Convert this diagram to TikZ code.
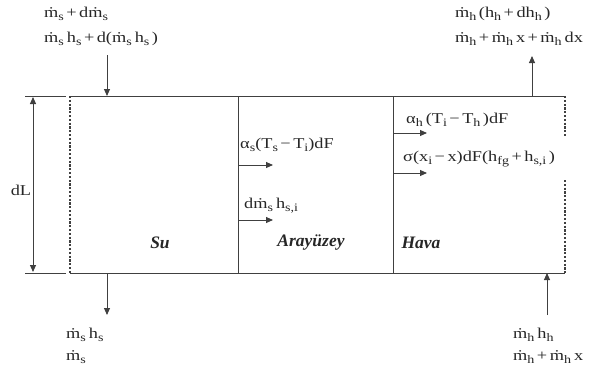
\documentclass[tikz,border=0pt]{standalone}
\usepackage{fontspec}
\setmainfont{Liberation Serif}
\newfontfamily\eqf[FakeStretch=1.22]{Liberation Serif}
\usetikzlibrary{arrows.meta}
\newcommand{\sbx}[1]{\raisebox{-0.4ex}{\fontsize{11.5}{12}\selectfont #1}}
\newcommand{\md}{\.m}
\newcommand{\pl}{\hspace{2.5pt}+\hspace{2.5pt}}
\newcommand{\mn}{\hspace{2.5pt}−\hspace{2.5pt}}
\newcommand{\gp}{\hspace{3pt}}
\begin{document}
\begin{tikzpicture}[x=1pt,y=-1pt,
  line/.style={draw=black!75,line width=0.9pt},
  dline/.style={draw=black!75,line width=1.1pt,dash pattern=on 2.2pt off 1.6pt},
  arr/.style={draw=black!75,line width=0.9pt,-{Triangle[length=7pt,width=6pt]}},
  darr/.style={draw=black!75,line width=0.9pt,{Triangle[length=7pt,width=6pt]}-{Triangle[length=7pt,width=6pt]}},
  lbl/.style={anchor=west,inner sep=0pt,font=\eqf\fontsize{15}{17}\selectfont,text=black!85},
  zone/.style={inner sep=0pt,font=\fontsize{17.5}{19}\selectfont\bfseries\itshape,text=black!85}]
\useasboundingbox (0,0) rectangle (594,370);
% box corners
\coordinate (tl) at (70,96);
\coordinate (tr) at (565,96);
\coordinate (bl) at (70,273);
\coordinate (br) at (565,273);
\coordinate (d1t) at (238,96);
\coordinate (d1b) at (238,273);
\coordinate (d2t) at (393,96);
\coordinate (d2b) at (393,273);
\coordinate (rgap1) at (565,137);
\coordinate (rgap2) at (565,180);
% ticks
\coordinate (tk1a) at (25,96);
\coordinate (tk1b) at (66,96);
\coordinate (tk2a) at (25,273);
\coordinate (tk2b) at (66,273);
\draw[line] (tk1a) -- (tk1b);
\draw[line] (tk2a) -- (tk2b);
\draw[line] (tl) -- (tr);
\draw[line] (bl) -- (br);
\draw[line] (d1t) -- (d1b);
\draw[line] (d2t) -- (d2b);
\draw[dline] (tl) -- (bl);
\draw[dline] (tr) -- (rgap1);
\draw[dline] (rgap2) -- (br);
% dL
\coordinate (dla) at (33,97);
\coordinate (dlb) at (33,272);
\draw[darr] (dla) -- (dlb);
\node[fill=white,inner sep=1pt,font=\eqf\fontsize{15}{17}\selectfont,text=black!85] (dL) at (21,190) {dL};
% flow arrows
\coordinate (a1s) at (107,55);
\coordinate (a1e) at (107,96);
\draw[arr] (a1s) -- (a1e);
\coordinate (a2s) at (107,273);
\coordinate (a2e) at (107,315);
\draw[arr] (a2s) -- (a2e);
\coordinate (a3s) at (532,96);
\coordinate (a3e) at (532,56);
\draw[arr] (a3s) -- (a3e);
\coordinate (a4s) at (547,315);
\coordinate (a4e) at (547,273);
\draw[arr] (a4s) -- (a4e);
% interface arrows
\coordinate (i1s) at (238,165);
\coordinate (i1e) at (273,165);
\draw[arr] (i1s) -- (i1e);
\coordinate (i2s) at (238,220);
\coordinate (i2e) at (273,220);
\draw[arr] (i2s) -- (i2e);
\coordinate (h1s) at (393,133);
\coordinate (h1e) at (427,133);
\draw[arr] (h1s) -- (h1e);
\coordinate (h2s) at (393,173);
\coordinate (h2e) at (427,173);
\draw[arr] (h2s) -- (h2e);
% labels
\node[lbl] (t1) at (44,14) {\md\sbx{s}\pl d\md\sbx{s}};
\node[lbl] (t2) at (44,39) {\md\sbx{s}\gp h\sbx{s}\pl d(\md\sbx{s}\gp h\sbx{s}\,)};
\node[lbl] (t3) at (455,14) {\md\sbx{h}\,(h\sbx{h}\pl dh\sbx{h}\,)};
\node[lbl] (t4) at (455,39) {\md\sbx{h}\pl\md\sbx{h}\gp x\pl\md\sbx{h}\gp dx};
\node[lbl] (b1) at (66,335) {\md\sbx{s}\gp h\sbx{s}};
\node[lbl] (b2) at (66,357) {\md\sbx{s}};
\node[lbl] (b3) at (513,335) {\md\sbx{h}\gp h\sbx{h}};
\node[lbl] (b4) at (513,357) {\md\sbx{h}\pl\md\sbx{h}\gp x};
\node[lbl] (q1) at (240,145) {α\sbx{s}(T\sbx{s}\mn T\sbx{i})dF};
\node[lbl] (q2) at (244,206) {d\md\sbx{s}\gp h\sbx{s,i}};
\node[lbl] (q3) at (406,120) {α\sbx{h}\gp(T\sbx{i}\mn T\sbx{h}\,)dF};
\node[lbl] (q4) at (403,159) {σ(x\sbx{i}\mn x)dF(h\sbx{fg}\pl h\sbx{s,i}\,)};
% zones
\node[zone] (su) at (160,243) {Su};
\node[zone] (ar) at (311,243) {Arayüzey};
\node[zone] (hv) at (421,243) {Hava};
\end{tikzpicture}
\end{document}
